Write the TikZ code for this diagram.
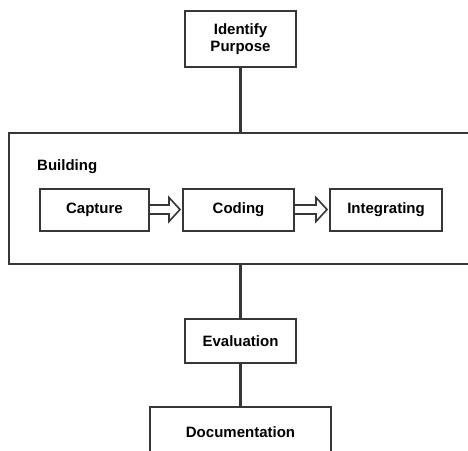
\documentclass[tikz,border=0pt]{standalone}
\usepackage{fontspec}
\setmainfont{Liberation Sans}
\usetikzlibrary{calc}
\definecolor{boxgray}{RGB}{55,55,55}

\tikzset{
  stage/.style={draw=boxgray, line width=2pt, fill=white, inner sep=0pt,
    minimum height=42pt, align=center,
    font=\fontsize{15}{17.5}\selectfont\bfseries},
  label/.style={inner sep=0pt, font=\fontsize{15}{17.5}\selectfont\bfseries},
  link/.style={draw=boxgray, line width=2.4pt},
  hollow/.style={draw=boxgray, line width=1.6pt, line join=miter},
}

\begin{document}
\begin{tikzpicture}[x=1pt,y=-1pt]
\useasboundingbox (0,0) rectangle (468,450);
% outer frame and labels
\node[stage, minimum width=463pt, minimum height=131pt] (building) at (240.5,198.5) {};
\node[label, anchor=base west] (buildlabel) at (37,170.7) {Building};
% stages
\node[stage, minimum width=111pt, minimum height=56pt] (purpose) at (240.5,39) {Identify\\Purpose};
\node[stage, minimum width=109pt] (capture) at (94.5,209.5) {Capture};
\node[stage, minimum width=111pt] (coding) at (238.5,209.5) {Coding};
\node[stage, minimum width=112pt] (integrating) at (386,209.5) {Integrating};
\node[stage, minimum width=111pt, minimum height=44pt] (evaluation) at (240.5,341) {Evaluation};
\node[stage, minimum width=181pt, minimum height=50pt] (documentation) at (240.5,432) {Documentation};
% plain links
\draw[link] (purpose.south) -- (building.north);
\draw[link] (building.south) -- (evaluation.north);
\draw[link] (evaluation.south) -- (documentation.north);
% hollow arrows
\draw[hollow] ($(capture.east)+(0,-4.5)$) -- ($(coding.west)+(-13,-4.5)$)
  -- ($(coding.west)+(-13,-12)$) -- ($(coding.west)+(-2,0)$)
  -- ($(coding.west)+(-13,12)$) -- ($(coding.west)+(-13,4.5)$)
  -- ($(capture.east)+(0,4.5)$);
\draw[hollow] ($(coding.east)+(0,-4.5)$) -- ($(integrating.west)+(-13,-4.5)$)
  -- ($(integrating.west)+(-13,-12)$) -- ($(integrating.west)+(-2,0)$)
  -- ($(integrating.west)+(-13,12)$) -- ($(integrating.west)+(-13,4.5)$)
  -- ($(coding.east)+(0,4.5)$);
\end{tikzpicture}
\end{document}
